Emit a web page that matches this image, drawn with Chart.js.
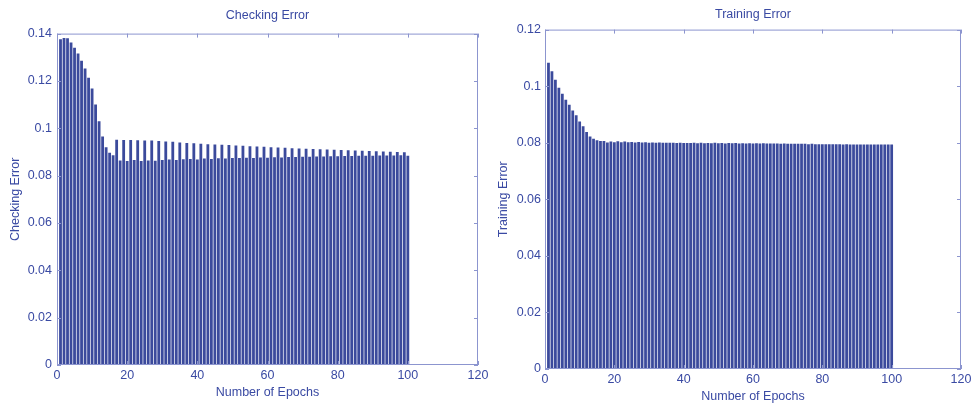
<!DOCTYPE html>
<html lang="en">
<head>
    <meta charset="utf-8" />
    <title>Checking / Training Error</title>
    <script src="https://cdn.jsdelivr.net/npm/chart.js@4.4.0/dist/chart.umd.min.js"></script>
    <style>
        html, body { margin: 0; padding: 0; background: #fff; }
        .panel { position: absolute; top: 0; height: 405px; }
        #leftPanel { left: 0; width: 500px; }
        #rightPanel { left: 489px; width: 489px; }
    </style>
</head>
<body>
    <div class="panel" id="leftPanel"><canvas id="checkChart" width="500" height="405"></canvas></div>
    <div class="panel" id="rightPanel"><canvas id="trainChart" width="489" height="405"></canvas></div>

    <script>
        // epochs 1..100
        const epochs = Array.from({ length: 100 }, (_, i) => i + 1);

        const checkingError = [
            0.1376, 0.1381, 0.1380, 0.1362, 0.1340, 0.1316, 0.1285, 0.1253, 0.1213, 0.1168,
            0.1101, 0.1030, 0.0965, 0.0920, 0.0897, 0.0886, 0.0952, 0.0864, 0.0950, 0.0862,
            0.0950, 0.0866, 0.0949, 0.0862, 0.0948, 0.0864, 0.0948, 0.0863, 0.0946, 0.0866,
            0.0944, 0.0868, 0.0943, 0.0866, 0.0940, 0.0869, 0.0938, 0.0870, 0.0937, 0.0868,
            0.0935, 0.0872, 0.0933, 0.0870, 0.0932, 0.0873, 0.0930, 0.0872, 0.0929, 0.0875,
            0.0927, 0.0874, 0.0926, 0.0876, 0.0924, 0.0875, 0.0923, 0.0877, 0.0922, 0.0876,
            0.0920, 0.0878, 0.0919, 0.0877, 0.0918, 0.0879, 0.0916, 0.0879, 0.0915, 0.0880,
            0.0914, 0.0880, 0.0912, 0.0881, 0.0911, 0.0881, 0.0910, 0.0882, 0.0909, 0.0882,
            0.0908, 0.0883, 0.0907, 0.0883, 0.0906, 0.0884, 0.0905, 0.0884, 0.0904, 0.0884,
            0.0903, 0.0885, 0.0902, 0.0885, 0.0901, 0.0885, 0.0900, 0.0886, 0.0899, 0.0884
        ];

        const trainingError = [
            0.1083, 0.1053, 0.1023, 0.0994, 0.0973, 0.0952, 0.0934, 0.0914, 0.0897, 0.0875,
            0.0858, 0.0838, 0.0822, 0.0814, 0.0809, 0.0806, 0.0806, 0.0801, 0.0804, 0.0802,
            0.0805, 0.0802, 0.0804, 0.0802, 0.0803, 0.0801, 0.0803, 0.0801, 0.0802, 0.0800,
            0.0801, 0.0800, 0.0801, 0.0800, 0.0800, 0.0800, 0.0800, 0.0799, 0.0800, 0.0799,
            0.0799, 0.0799, 0.0800, 0.0798, 0.0800, 0.0798, 0.0799, 0.0798, 0.0800, 0.0798,
            0.0799, 0.0797, 0.0799, 0.0798, 0.0799, 0.0797, 0.0798, 0.0797, 0.0798, 0.0797,
            0.0798, 0.0797, 0.0798, 0.0797, 0.0797, 0.0797, 0.0797, 0.0796, 0.0797, 0.0796,
            0.0796, 0.0796, 0.0796, 0.0796, 0.0796, 0.0795, 0.0796, 0.0795, 0.0795, 0.0795,
            0.0795, 0.0795, 0.0795, 0.0795, 0.0795, 0.0794, 0.0795, 0.0794, 0.0794, 0.0794,
            0.0794, 0.0794, 0.0794, 0.0794, 0.0794, 0.0794, 0.0794, 0.0794, 0.0794, 0.0794
        ];

        const xTicks = { min: 0, max: 120, step: 20 };
        const checkYTicks = { min: 0, max: 0.14, step: 0.02 };
        const trainYTicks = { min: 0, max: 0.12, step: 0.02 };

        const barColor = '#3b4a9c';
        const textColor = '#3a4aa3';
        const boxColor = '#8c95cf';
        const fontFamily = '"Liberation Sans", Arial, Helvetica, sans-serif';

        Chart.defaults.font.family = fontFamily;
        Chart.defaults.font.size = 12.5;
        Chart.defaults.color = textColor;

        // matlab style box with inward ticks on every side
        const boxPlugin = {
            id: 'matlabBox',
            afterDatasetsDraw(chart) {
                const { ctx, chartArea: a, scales: { x, y } } = chart;
                const len = 4;
                ctx.save();
                ctx.strokeStyle = boxColor;
                ctx.lineWidth = 1;
                ctx.strokeRect(a.left + 0.5, a.top + 0.5, a.right - a.left - 1, a.bottom - a.top - 1);
                ctx.beginPath();
                x.ticks.forEach(t => {
                    const px = Math.round(x.getPixelForValue(t.value)) + 0.5;
                    ctx.moveTo(px, a.top); ctx.lineTo(px, a.top + len);
                    ctx.moveTo(px, a.bottom); ctx.lineTo(px, a.bottom - len);
                });
                y.ticks.forEach(t => {
                    const py = Math.round(y.getPixelForValue(t.value)) + 0.5;
                    ctx.moveTo(a.left, py); ctx.lineTo(a.left + len, py);
                    ctx.moveTo(a.right, py); ctx.lineTo(a.right - len, py);
                });
                ctx.stroke();
                ctx.restore();
            }
        };

        function makeChart(canvasId, title, values, yTicks, geo) {
            const ctx = document.getElementById(canvasId).getContext('2d');
            return new Chart(ctx, {
                type: 'bar',
                data: {
                    datasets: [{
                        data: epochs.map((e, i) => ({ x: e, y: values[i] })),
                        backgroundColor: barColor,
                        borderWidth: 0,
                        barPercentage: 0.8,
                        categoryPercentage: 1.0
                    }]
                },
                options: {
                    responsive: false,
                    animation: false,
                    devicePixelRatio: 1,
                    layout: { padding: { left: 0, right: geo.padRight, top: 0, bottom: 0 } },
                    plugins: {
                        legend: { display: false },
                        tooltip: { enabled: false },
                        title: {
                            display: true,
                            text: title,
                            fullSize: false,
                            color: textColor,
                            font: { size: 12.5, weight: 'normal' },
                            padding: { top: geo.titleTop, bottom: geo.titleBottom }
                        }
                    },
                    scales: {
                        x: {
                            type: 'linear',
                            offset: false,
                            min: xTicks.min,
                            max: xTicks.max,
                            grid: { display: false, drawTicks: false },
                            border: { display: false },
                            ticks: { stepSize: xTicks.step, padding: 3, color: textColor, maxRotation: 0 },
                            title: {
                                display: true,
                                text: 'Number of Epochs',
                                color: textColor,
                                padding: { top: 0, bottom: geo.xTitleBottom }
                            },
                            afterFit(scale) { scale.height = geo.xHeight; }
                        },
                        y: {
                            min: yTicks.min,
                            max: yTicks.max,
                            grid: { display: false, drawTicks: false },
                            border: { display: false },
                            ticks: {
                                stepSize: yTicks.step,
                                padding: geo.yTickPad,
                                color: textColor,
                                callback: v => String(+v.toFixed(4))
                            },
                            title: {
                                display: true,
                                text: title,
                                color: textColor,
                                padding: { top: geo.yTitleTop, bottom: 0 }
                            },
                            afterFit(scale) { scale.width = geo.yWidth; }
                        }
                    }
                },
                plugins: [boxPlugin]
            });
        }

        makeChart('checkChart', 'Checking Error', checkingError, checkYTicks, {
            padRight: 22, titleTop: 8, titleBottom: 10.6,
            xHeight: 40, xTitleBottom: 5, yWidth: 57, yTickPad: 5, yTitleTop: 8
        });

        makeChart('trainChart', 'Training Error', trainingError, trainYTicks, {
            padRight: 17, titleTop: 6.8, titleBottom: 7.8,
            xHeight: 36, xTitleBottom: 1, yWidth: 56, yTickPad: 4, yTitleTop: 7
        });
    </script>
</body>
</html>
